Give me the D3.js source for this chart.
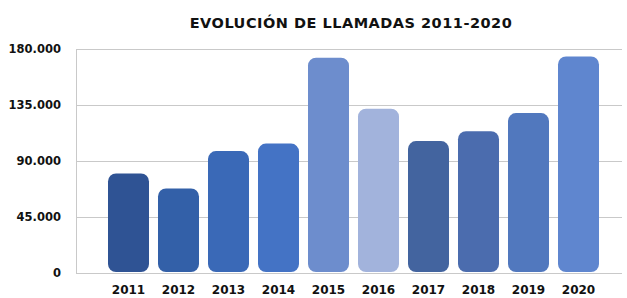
<!DOCTYPE html>
<html><head><meta charset="utf-8">
<script src="https://cdn.jsdelivr.net/npm/d3@7"></script>
<style>html,body{margin:0;padding:0;background:#fff;}svg{display:block;}</style>
</head><body>
<script>
const years = ["2011","2012","2013","2014","2015","2016","2017","2018","2019","2020"];
const calls = [80000, 68000, 98000, 104000, 173000, 132000, 106000, 114000, 128500, 174000];
const barColors = ["#2f5394","#3360a8","#3a69b7","#4473c5","#6d8dcd","#a2b3dc","#43649f","#4b6cae","#5178be","#5f86cf"];
const yTicks = [0, 45000, 90000, 135000, 180000];
const title = "EVOLUCIÓN DE LLAMADAS 2011-2020";

const W = 627, H = 298;
const svg = d3.select("body").append("svg").attr("width", W).attr("height", H);
const font = "'DejaVu Sans', sans-serif";

const x = d3.scaleBand().domain(years).range([103.5, 603.5]).paddingInner(0.18).paddingOuter(0.09);
const y = d3.scaleLinear().domain([0, 180000]).range([273, 49]);
const fmt = d3.formatLocale({decimal: ",", thousands: ".", grouping: [3], currency: ["", "€"]}).format(",.0f");

// gridlines
svg.append("g").selectAll("line").data(yTicks).join("line")
  .attr("x1", 76).attr("x2", 622)
  .attr("y1", d => y(d) + 0.5).attr("y2", d => y(d) + 0.5)
  .attr("stroke", "#c9c9c9").attr("stroke-width", 1);
// y axis line
svg.append("line").attr("x1", 76.5).attr("x2", 76.5).attr("y1", y(180000)).attr("y2", y(0) + 1)
  .attr("stroke", "#c9c9c9");

// y labels
svg.append("g").selectAll("text").data(yTicks).join("text")
  .attr("x", 61).attr("y", d => y(d)).attr("dy", "0.36em")
  .attr("text-anchor", "end").attr("font-family", font).attr("font-weight", "bold")
  .attr("font-size", 11.5).attr("fill", "#111")
  .text(d => fmt(d));

// bars
svg.append("g").selectAll("rect").data(years).join("rect")
  .attr("x", d => x(d)).attr("width", x.bandwidth())
  .attr("y", (d, i) => y(calls[i]))
  .attr("height", (d, i) => y(0) - 1 - y(calls[i]))
  .attr("rx", 8).attr("ry", 8)
  .attr("fill", (d, i) => barColors[i]);

// x labels
svg.append("g").selectAll("text").data(years).join("text")
  .attr("x", d => x(d) + x.bandwidth() / 2).attr("y", 294)
  .attr("text-anchor", "middle").attr("font-family", font).attr("font-weight", "bold")
  .attr("font-size", 12).attr("fill", "#111")
  .text(d => d);

// title
svg.append("text").attr("x", 351).attr("y", 28)
  .attr("text-anchor", "middle").attr("font-family", font).attr("font-weight", "bold")
  .attr("font-size", 14.5).attr("letter-spacing", 0.5).attr("fill", "#111")
  .text(title);
</script>
</body></html>
